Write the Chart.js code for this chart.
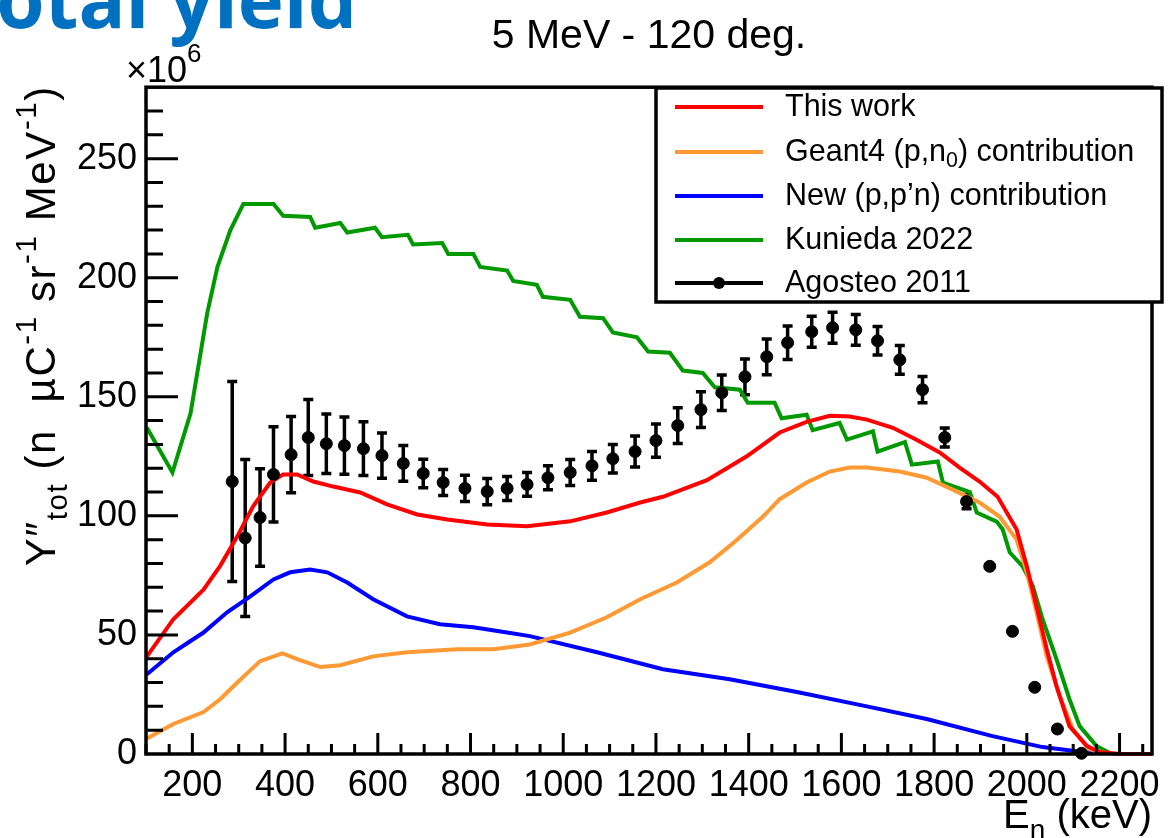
<!DOCTYPE html>
<html>
<head>
<meta charset="utf-8">
<script src="https://cdn.jsdelivr.net/npm/chart.js@4.4.0/dist/chart.umd.min.js"></script>
<style>
  html, body { margin: 0; padding: 0; background: #fff; }
</style>
</head>
<body>
<canvas id="myChart" width="1176" height="838"></canvas>
<script>
// neutron energy (keV) and yield (x10^6 n uC^-1 sr^-1 MeV^-1)
const workE = [102, 159, 224, 260, 297, 331, 368, 396, 426, 461, 504, 562, 620, 685, 750, 836, 922, 1015, 1094, 1166, 1215, 1310, 1396, 1467, 1525, 1575, 1618, 1655, 1711, 1762, 1812, 1855, 1898, 1937, 1978, 2000, 2021, 2043, 2064, 2092, 2129, 2157, 2200, 2270];
const workY = [41, 56.6, 69, 79, 91.4, 104, 114, 117.4, 117.4, 114.4, 112.3, 109.8, 104.8, 100.6, 98.5, 96.4, 95.6, 97.7, 101.4, 105.6, 108, 115, 125, 135, 139.5, 142, 141.7, 140.4, 137, 132, 126.6, 120.3, 114.4, 108, 94.3, 78.8, 62, 44, 28.5, 11.7, 3.4, 0.8, 0, 0];

const g4E = [102, 159, 224, 260, 297, 346, 394, 426, 476, 519, 590, 663, 771, 849, 928, 1015, 1094, 1166, 1245, 1316, 1375, 1431, 1467, 1525, 1575, 1618, 1655, 1726, 1784, 1840, 1898, 1941, 1978, 2000, 2021, 2043, 2071, 2099, 2135, 2172];
const g4Y = [6.5, 12.6, 17.6, 23, 30, 39, 42.3, 39.8, 36.5, 37.3, 41, 42.7, 44, 44, 46, 51, 57.4, 65, 72, 80.5, 90, 99.7, 107, 114, 118.6, 120.3, 120.3, 118.6, 116, 111, 105.6, 99.7, 90, 76.3, 59.5, 41, 24.3, 10.5, 2, 0.3];

const ppnE = [102, 159, 224, 275, 325, 375, 411, 454, 491, 534, 590, 663, 734, 806, 879, 928, 1073, 1215, 1359, 1504, 1655, 1784, 1926, 2034, 2142];
const ppnY = [33.5, 42.7, 51, 59.5, 66.2, 73.3, 76.3, 77.5, 76.3, 72, 65, 57.8, 54.5, 53.2, 51, 49.5, 42.7, 35.6, 31.4, 26, 20, 14.7, 7.5, 2.9, 0.3];

const kunE = [102, 157, 196, 232, 254, 282, 310, 375, 396, 454, 465, 519, 534, 594, 609, 665, 676, 739, 752, 806, 821, 879, 892, 943, 956, 1015, 1036, 1086, 1107, 1159, 1183, 1230, 1258, 1301, 1327, 1381, 1398, 1456, 1471, 1525, 1538, 1596, 1612, 1668, 1678, 1737, 1752, 1808, 1819, 1877, 1892, 1935, 1948, 1963, 1991, 2013, 2034, 2064, 2092, 2114, 2150, 2178];
const kunY = [137, 118.2, 143, 185, 204.5, 220, 231, 231, 226, 225.5, 221, 223, 219, 221, 217, 218, 214, 214.6, 210, 210, 204.5, 203, 198.6, 197, 192, 190.7, 183.6, 183, 177, 175, 169, 168.5, 161, 160, 154, 153, 147.5, 147.5, 141, 142.5, 136, 139, 132, 135.5, 127, 131, 121.5, 122.8, 114, 110, 101.4, 97.6, 94.3, 84.7, 78.8, 70.4, 56.6, 39.8, 23, 11.7, 3.4, 0.5];

const agoE = [286, 314, 346, 375, 413, 450, 489, 528, 569, 609, 655, 698, 741, 788, 836, 879, 922, 967, 1015, 1062, 1107, 1155, 1200, 1247, 1297, 1342, 1392, 1439, 1484, 1536, 1581, 1631, 1678, 1726, 1775, 1823, 1870, 1920, 1969, 2017, 2066, 2118];
const agoY = [114.4, 90.7, 99.3, 117.4, 125.7, 132.9, 130.3, 129.5, 128.2, 125.3, 122, 117.8, 114, 111.5, 110.2, 111.5, 113.2, 116, 118.2, 121, 124, 127, 131.6, 137.9, 144.6, 151.7, 158.4, 166.8, 172.7, 177.3, 179, 178.1, 173.5, 165.5, 153, 132.9, 106, 78.8, 51.5, 28, 10.5, 0.3];
const agoErr = [42, 33, 20.5, 20, 16, 16, 12.5, 12, 11.3, 9.5, 7.5, 6, 5.5, 5.5, 5.5, 5, 5, 5, 5.5, 6, 6, 6.5, 7, 7.5, 7.5, 7.5, 7.5, 7.5, 7, 6.5, 6.5, 6.5, 6, 6, 5.5, 4, 3, 2.5, 2, 1.5, 1, 0.5];

const xTicks = [200, 400, 600, 800, 1000, 1200, 1400, 1600, 1800, 2000, 2200];
const yTicks = [0, 50, 100, 150, 200, 250];
const xMinor = 50;
const yMinor = 10;

const FONT = '"Liberation Sans", Arial, Helvetica, sans-serif';
const toPts = (xs, ys) => xs.map((v, i) => ({ x: v, y: ys[i] }));

function curve(label, xs, ys, color) {
    return {
        label: label,
        data: toPts(xs, ys),
        showLine: true,
        borderColor: color,
        backgroundColor: color,
        borderWidth: 4,
        pointRadius: 0,
        tension: 0,
        clip: 3,
        order: 1
    };
}

// draws text pieces with sub/superscripts
function drawRich(ctx, pieces, size, x, y, align) {
    const parts = pieces.map(p => {
        const s = size * (p[1] || 1);
        ctx.font = s + 'px ' + FONT;
        return { t: p[0], s: s, dy: (p[2] || 0) * size, w: ctx.measureText(p[0]).width };
    });
    const total = parts.reduce((a, p) => a + p.w, 0);
    let cx = align === 'right' ? x - total : x;
    parts.forEach(p => {
        ctx.font = p.s + 'px ' + FONT;
        ctx.fillText(p.t, cx, y - p.dy);
        cx += p.w;
    });
}

const rootStyle = {
    id: 'rootStyle',
    beforeDatasetsDraw(chart) {
        // vertical error bars of the Agosteo data
        const { ctx, scales: { x, y } } = chart;
        ctx.save();
        ctx.strokeStyle = '#000';
        ctx.lineWidth = 3.5;
        agoE.forEach((e, i) => {
            const px = x.getPixelForValue(e);
            const top = y.getPixelForValue(agoY[i] + agoErr[i]);
            const bot = y.getPixelForValue(agoY[i] - agoErr[i]);
            if (bot - top < 13) return;
            ctx.beginPath();
            ctx.moveTo(px, top); ctx.lineTo(px, bot);
            ctx.moveTo(px - 5, top); ctx.lineTo(px + 5, top);
            ctx.moveTo(px - 5, bot); ctx.lineTo(px + 5, bot);
            ctx.stroke();
        });
        ctx.restore();
    },
    afterDraw(chart) {
        const { ctx, chartArea: a, scales: { x, y } } = chart;
        ctx.save();
        ctx.fillStyle = '#000';
        ctx.strokeStyle = '#000';

        // frame
        ctx.lineWidth = 3.5;
        ctx.strokeRect(a.left, a.top, a.right - a.left, a.bottom - a.top);

        // inward tick marks
        ctx.lineWidth = 3;
        ctx.beginPath();
        for (let v = Math.ceil(x.min / xMinor) * xMinor; v <= x.max; v += xMinor) {
            const px = x.getPixelForValue(v);
            const len = v % 200 === 0 ? 21 : 10;
            ctx.moveTo(px, a.bottom); ctx.lineTo(px, a.bottom - len);
        }
        for (let v = y.min + yMinor; v < y.max; v += yMinor) {
            const py = y.getPixelForValue(v);
            const len = v % 50 === 0 ? 32 : 17;
            ctx.moveTo(a.left, py); ctx.lineTo(a.left + len, py);
        }
        ctx.stroke();

        // axis exponent
        ctx.textAlign = 'left';
        ctx.textBaseline = 'alphabetic';
        drawRich(ctx, [['\u00d710'], ['6', 0.72, 0.55]], 36, a.left - 20, a.top - 5, 'left');

        // x title
        drawRich(ctx, [['E'], ['n', 0.7, -0.28], [' (keV)']], 40, a.right, 828, 'right');

        // y title, rotated
        ctx.save();
        ctx.translate(55, a.top - 2);
        ctx.rotate(-Math.PI / 2);
        ctx.letterSpacing = '1.6px';
        drawRich(ctx, [['Y\u2033'], ['tot', 0.7, -0.28], [' (n  \u00b5C'], ['-1', 0.7, 0.45], [' sr'], ['-1', 0.7, 0.45], [' MeV'], ['-1', 0.7, 0.45], [')']], 42, 0, 0, 'right');
        ctx.restore();

        // legend box
        const lx0 = 656, ly0 = 88, lx1 = 1162, ly1 = 302;
        ctx.fillStyle = '#fff';
        ctx.fillRect(lx0, ly0, lx1 - lx0, ly1 - ly0);
        ctx.lineWidth = 3.5;
        ctx.strokeRect(lx0, ly0, lx1 - lx0, ly1 - ly0);
        const rowY = [107, 152, 196, 240, 283];
        chart.data.datasets.forEach((ds, i) => {
            const yy = rowY[i];
            ctx.strokeStyle = ds.borderColor;
            ctx.lineWidth = 4;
            ctx.beginPath();
            ctx.moveTo(675, yy); ctx.lineTo(763, yy);
            ctx.stroke();
            if (!ds.showLine) {
                ctx.fillStyle = '#000';
                ctx.beginPath();
                ctx.arc(719, yy, 6, 0, Math.PI * 2);
                ctx.fill();
            }
            ctx.fillStyle = '#000';
            ctx.textBaseline = 'middle';
            if (ds.label.indexOf('(p,n0)') >= 0) {
                drawRich(ctx, [['Geant4 (p,n'], ['0', 0.7, -0.25], [') contribution']], 30.5, 785, yy + 1, 'left');
            } else {
                drawRich(ctx, [[ds.label]], 30.5, 785, yy + 1, 'left');
            }
        });
        ctx.restore();

        // slide heading, cut by the page edge
        ctx.save();
        ctx.fillStyle = '#0070c0';
        ctx.font = 'bold 78px "Open Sans", sans-serif';
        ctx.textAlign = 'right';
        ctx.textBaseline = 'alphabetic';
        ctx.fillText('Total yield', 357, 28);
        ctx.restore();
    }
};

const ctx = document.getElementById('myChart');

new Chart(ctx, {
    type: 'scatter',
    data: {
        datasets: [
            curve('This work', workE, workY, '#ff0000'),
            curve('Geant4 (p,n0) contribution', g4E, g4Y, '#ff9933'),
            curve('New (p,p\u2019n) contribution', ppnE, ppnY, '#0000ff'),
            curve('Kunieda 2022', kunE, kunY, '#009900'),
            {
                label: 'Agosteo 2011',
                data: toPts(agoE, agoY),
                showLine: false,
                pointRadius: 6,
                pointBackgroundColor: '#000',
                pointBorderColor: '#000',
                borderColor: '#000',
                backgroundColor: '#000',
                clip: 6,
                order: 0
            }
        ]
    },
    options: {
        responsive: false,
        animation: false,
        events: [],
        layout: { padding: { top: 0, right: 24, bottom: 0, left: 0 } },
        plugins: {
            legend: { display: false },
            tooltip: { enabled: false },
            title: {
                display: true,
                fullSize: false,
                text: '5 MeV - 120 deg.',
                color: '#000',
                font: { family: FONT, size: 41, weight: 'normal' },
                padding: { top: 12, bottom: 26 }
            }
        },
        scales: {
            x: {
                type: 'linear',
                min: 100,
                max: 2270,
                afterBuildTicks: s => { s.ticks = xTicks.map(v => ({ value: v })); },
                afterFit: s => { s.height = 84; },
                grid: { display: false, drawTicks: false },
                border: { display: false },
                ticks: {
                    color: '#000',
                    font: { family: FONT, size: 36 },
                    padding: 10,
                    maxRotation: 0,
                    autoSkip: false,
                    callback: v => String(v)
                }
            },
            y: {
                min: 0,
                max: 280,
                afterBuildTicks: s => { s.ticks = yTicks.map(v => ({ value: v })); },
                afterFit: s => { s.width = 146; },
                grid: { display: false, drawTicks: false },
                border: { display: false },
                ticks: {
                    color: '#000',
                    font: { family: FONT, size: 36 },
                    padding: 9,
                    callback: v => String(v)
                }
            }
        }
    },
    plugins: [rootStyle]
});
</script>
</body>
</html>
